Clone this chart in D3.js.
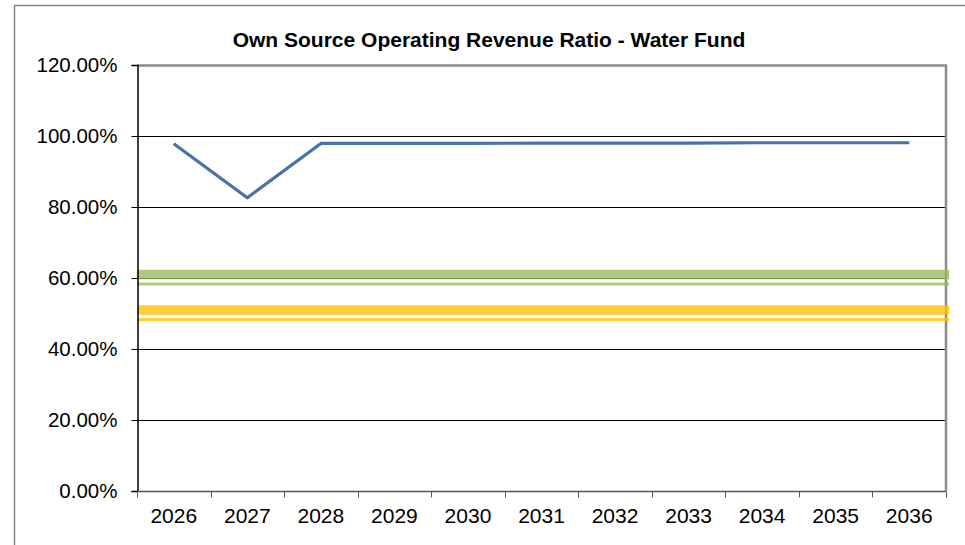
<!DOCTYPE html>
<html>
<head>
<meta charset="utf-8">
<script src="https://cdn.jsdelivr.net/npm/d3@7"></script>
<style>
  html, body { margin: 0; padding: 0; background: #fff; }
  svg { display: block; font-family: "Liberation Sans", Arial, sans-serif; }
</style>
</head>
<body>
<svg id="chart" width="965" height="545"></svg>
<script>
// Years on the category axis
const years = ["2026", "2027", "2028", "2029", "2030", "2031", "2032", "2033", "2034", "2035", "2036"];
// Own source operating revenue ratio (%) per year
const ratio = [97.8, 82.6, 97.9, 97.9, 97.9, 98.0, 98.0, 98.0, 98.1, 98.1, 98.1];
// Benchmark levels (%)
const benchmarkGreen = 60;
const benchmarkYellow = 50;
// Value axis ticks (%)
const yTicks = [0, 20, 40, 60, 80, 100, 120];

const svg = d3.select("#chart");
const plot = { left: 137, right: 946, top: 65, bottom: 491 };

const x = d3.scaleBand().domain(years).range([plot.left, plot.right]).padding(0);
const y = d3.scaleLinear().domain([0, 120]).range([plot.bottom, plot.top]);

// Outer chart frame
svg.append("rect")
  .attr("x", 14.5).attr("y", 5.5)
  .attr("width", 1000).attr("height", 600)
  .attr("fill", "none").attr("stroke", "#858585").attr("stroke-width", 1.5);

// Title
svg.append("text")
  .attr("x", 489).attr("y", 47)
  .attr("text-anchor", "middle")
  .attr("font-size", 21).attr("font-weight", "bold")
  .attr("fill", "#000")
  .text("Own Source Operating Revenue Ratio - Water Fund");

// Horizontal gridlines
svg.append("g")
  .selectAll("line")
  .data(yTicks.filter(t => t > 0 && t < 120))
  .join("line")
  .attr("x1", plot.left).attr("x2", plot.right)
  .attr("y1", d => Math.round(y(d)) + 0.5).attr("y2", d => Math.round(y(d)) + 0.5)
  .attr("stroke", "#000").attr("stroke-width", 1);

// Plot area border (top and right)
svg.append("path")
  .attr("d", `M${plot.left},${plot.top + 0.5}H${plot.right}V${plot.bottom}`)
  .attr("fill", "none").attr("stroke", "#8c8c8c").attr("stroke-width", 2.5);

// Benchmark bands: thick/thin double line around each level
function benchmark(level, color) {
  const g = svg.append("g").attr("opacity", 0.78);
  g.append("line")
    .attr("x1", plot.left).attr("x2", plot.right + 3)
    .attr("y1", y(level) - 3.5).attr("y2", y(level) - 3.5)
    .attr("stroke", color).attr("stroke-width", 9.5);
  g.append("line")
    .attr("x1", plot.left).attr("x2", plot.right + 3)
    .attr("y1", y(level) + 6).attr("y2", y(level) + 6)
    .attr("stroke", color).attr("stroke-width", 3.2);
}
benchmark(benchmarkGreen, "#9bbb59");
benchmark(benchmarkYellow, "#ffc000");

// Ratio line
const line = d3.line()
  .x((d, i) => x(years[i]) + x.bandwidth() / 2)
  .y(d => y(d));
svg.append("path")
  .datum(ratio)
  .attr("d", line)
  .attr("fill", "none")
  .attr("stroke", "#4671a9")
  .attr("stroke-width", 3.2)
  .attr("stroke-linejoin", "round");

// Value axis
const yAxis = d3.axisLeft(y)
  .tickValues(yTicks)
  .tickFormat(d => d.toFixed(2) + "%")
  .tickSize(6)
  .tickPadding(14);
const yg = svg.append("g")
  .attr("transform", `translate(${plot.left + 0.5},0)`)
  .call(yAxis);
yg.select(".domain").attr("stroke", "#000").attr("stroke-width", 1.5);
yg.selectAll(".tick line").attr("stroke", "#000");
yg.selectAll(".tick text")
  .attr("font-size", 20.5).attr("fill", "#000")
  .attr("font-family", "Liberation Sans, Arial, sans-serif");

// Category axis with ticks on category boundaries
const xg = svg.append("g")
  .attr("transform", `translate(0,${plot.bottom + 0.5})`);
xg.append("line")
  .attr("x1", plot.left).attr("x2", plot.right)
  .attr("stroke", "#555").attr("stroke-width", 1.5);
const edges = years.map(yr => x(yr)).concat([plot.right]);
xg.selectAll("line.tick")
  .data(edges)
  .join("line")
  .attr("class", "tick")
  .attr("x1", d => Math.round(d) + 0.5).attr("x2", d => Math.round(d) + 0.5)
  .attr("y1", 0).attr("y2", 6)
  .attr("stroke", "#555").attr("stroke-width", 1);
xg.selectAll("text")
  .data(years)
  .join("text")
  .attr("x", d => x(d) + x.bandwidth() / 2)
  .attr("y", 31)
  .attr("text-anchor", "middle")
  .attr("font-size", 21)
  .attr("fill", "#000")
  .text(d => d);
</script>
</body>
</html>
